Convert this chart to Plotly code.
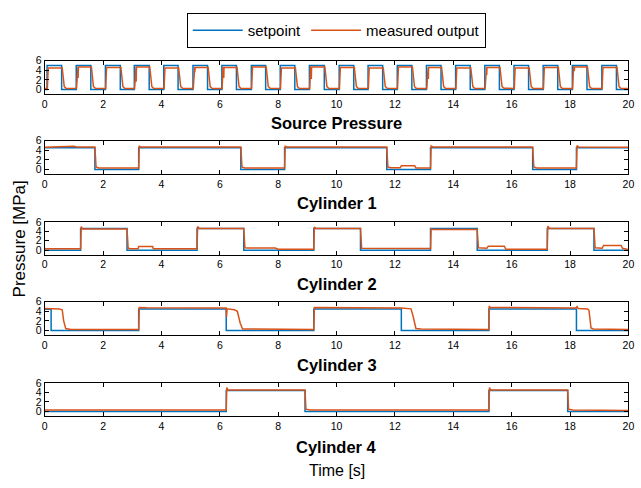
import plotly.graph_objects as go

BLUE = "#0072BD"
ORANGE = "#D95319"

# ---------------- data ----------------
# Source pressure: one pulse per cycle
sp_rise = [0.08, 1.08, 2.08, 3.07, 4.08, 5.08, 6.07, 7.08, 8.07, 9.07,
           10.09, 11.08, 12.08, 13.08, 14.08, 15.08, 16.08, 17.08, 18.08, 19.09]
sp_fall = [0.58, 1.58, 2.59, 3.58, 4.57, 5.58, 6.57, 7.57, 8.57, 9.58,
           10.59, 11.58, 12.58, 13.58, 14.58, 15.58, 16.58, 17.58, 18.58, 19.59]
sp_set_high = 5.0
sp_set_low = 0.0
sp_meas_high = [4.5, 4.7, 4.6, 4.7, 4.5, 4.6, 4.6, 4.7, 4.5, 4.7,
                4.6, 4.5, 4.7, 4.6, 4.5, 4.6, 4.5, 4.6, 4.7, 4.6]
sp_meas_low = [0.2, 0.25, 0.2, 0.2, 0.25, 0.2, 0.2, 0.25, 0.2, 0.2,
               0.2, 0.25, 0.2, 0.2, 0.2, 0.25, 0.2, 0.2, 0.2, 0.2]
sp_dip = [None, 2.4, None, 1.6, None, 3.6, 2.4, None, None, 2.2,
          None, None, None, 2.2, None, 3.0, None, None, 3.8, None]

# Cylinder 1
c1_set_t = [0, 1.72, 3.22, 6.72, 8.22, 11.72, 13.22, 16.72, 18.22, 20]
c1_set_v = [4.55, 0, 4.55, 0, 4.55, 0, 4.55, 0, 4.55, 4.55]
c1_meas_t = [0, 0.6, 0.7, 1.0, 1.1, 1.72, 1.76, 1.85, 3.22, 3.24, 3.3,
             6.72, 6.76, 6.85, 8.22, 8.24, 8.3, 11.72, 11.76, 11.85, 12.18,
             12.22, 12.68, 12.72, 13.22, 13.24, 13.3, 16.72, 16.76, 16.85,
             18.22, 18.24, 18.3, 20]
c1_meas_v = [4.65, 4.7, 4.85, 4.85, 4.7, 4.7, 0.5, 0.3, 0.3, 4.85, 4.7,
             4.7, 0.5, 0.3, 0.3, 4.85, 4.7, 4.7, 0.5, 0.35, 0.35,
             0.75, 0.75, 0.3, 0.3, 4.9, 4.7, 4.7, 0.5, 0.3,
             0.3, 5.0, 4.7, 4.65]

# Cylinder 2
c2_set_t = [0, 1.23, 2.82, 5.22, 6.82, 9.22, 10.82, 13.22, 14.82, 17.22, 18.82, 20]
c2_set_v = [0, 4.6, 0, 4.6, 0, 4.6, 0, 4.6, 0, 4.6, 0, 0]
c2_meas_t = [0, 1.23, 1.25, 1.3, 2.82, 2.86, 2.95, 3.2, 3.22, 3.7, 3.72, 5.22,
             5.24, 5.3, 6.82, 6.86, 6.95, 7.9, 8.0, 9.22, 9.24, 9.3, 10.82,
             10.86, 13.22, 13.24, 13.3, 14.82, 14.86, 15.15, 15.2, 15.75,
             15.8, 17.22, 17.24, 17.3, 18.82, 18.86, 19.1, 19.15, 19.75,
             19.8, 19.95, 20]
c2_meas_v = [0.3, 0.3, 5.0, 4.5, 4.5, 0.4, 0.3, 0.3, 0.75, 0.75, 0.3, 0.3,
             5.0, 4.6, 4.6, 0.5, 0.45, 0.45, 0.2, 0.2, 4.9, 4.6, 4.6,
             0.4, 0.35, 4.5, 4.4, 4.4, 0.5, 0.4, 0.85, 0.85,
             0.2, 0.2, 5.1, 4.6, 4.6, 0.5, 0.4, 1.0, 1.0,
             0.4, 0.2, 0.1]

# Cylinder 3
c3_set_t = [0, 0.22, 3.22, 6.22, 9.22, 12.22, 15.22, 18.22, 20]
c3_set_v = [4.4, 0, 4.5, 0, 4.5, 0, 4.5, 0, 0]
c3_meas_t = [0, 0.5, 0.6, 0.65, 0.72, 0.9, 3.22, 3.24, 3.5, 6.22, 6.23,
             6.25, 6.5, 6.6, 6.7, 6.78, 9.22, 9.24, 12.22, 12.55, 12.62,
             12.72, 12.9, 15.22, 15.23, 15.26, 18.2, 18.24, 18.28, 18.6,
             18.65, 18.72, 18.8, 20]
c3_meas_v = [4.6, 4.5, 4.3, 2.0, 0.4, 0.2, 0.2, 4.8, 4.75, 4.7, 2.8,
             4.5, 4.3, 4.0, 1.5, 0.3, 0.2, 4.8, 4.7, 4.5, 3.0,
             0.4, 0.3, 0.2, 5.1, 4.8, 4.7, 5.0, 4.6, 4.5,
             4.2, 0.5, 0.3, 0.2]

# Cylinder 4
c4_set_t = [0, 6.22, 8.92, 15.22, 17.92, 20]
c4_set_v = [0, 4.4, 0, 4.4, 0, 0]
c4_meas_t = [0, 6.22, 6.24, 6.28, 8.92, 8.95, 9.1, 15.22, 15.24, 15.28,
             17.92, 17.95, 18.1, 20]
c4_meas_v = [0.3, 0.3, 5.0, 4.5, 4.5, 0.5, 0.3, 0.3, 5.0, 4.5,
             4.5, 0.5, 0.3, 0.2]

titles = ["Source Pressure", "Cylinder 1", "Cylinder 2", "Cylinder 3", "Cylinder 4"]
x_ticks = [0, 2, 4, 6, 8, 10, 12, 14, 16, 18, 20]
y_ticks = [0, 2, 4, 6]

# ---------------- build source pressure traces from per-cycle readings ----
sp_set_t, sp_set_v = [0], [sp_set_low]
for r, f in zip(sp_rise, sp_fall):
    sp_set_t += [r, r, f, f]
    sp_set_v += [sp_set_low, sp_set_high, sp_set_high, sp_set_low]
sp_set_t.append(20)
sp_set_v.append(sp_set_low)

sp_meas_t, sp_meas_v = [0], [sp_meas_low[0]]
for r, f, h, lo, d in zip(sp_rise, sp_fall, sp_meas_high, sp_meas_low, sp_dip):
    sp_meas_t += [r + 0.01, r + 0.04]
    sp_meas_v += [lo, h]
    if d is not None:
        sp_meas_t += [r + 0.06, r + 0.065, r + 0.075]
        sp_meas_v += [h, d, h]
    sp_meas_t += [f + 0.02, f + 0.09, f + 0.16]
    sp_meas_v += [h, 0.6, lo]
sp_meas_t.append(20)
sp_meas_v.append(sp_meas_low[-1])

series = [
    (sp_set_t, sp_set_v, "linear", sp_meas_t, sp_meas_v),
    (c1_set_t, c1_set_v, "hv", c1_meas_t, c1_meas_v),
    (c2_set_t, c2_set_v, "hv", c2_meas_t, c2_meas_v),
    (c3_set_t, c3_set_v, "hv", c3_meas_t, c3_meas_v),
    (c4_set_t, c4_set_v, "hv", c4_meas_t, c4_meas_v),
]

# ---------------- layout geometry ----------------
W, H = 641, 488
box_px = [(55.5, 89.5), (136.7, 170.7), (219, 252.5), (300, 334), (382.3, 416.3)]
title_px = [119, 200, 282, 364, 447]
x_left, x_right = 42.3, 634.3

fig = go.Figure()
FONT = "Liberation Sans, Arial, sans-serif"

for i, (st, sv, shape, mt, mv) in enumerate(series):
    ax = "" if i == 0 else str(i + 1)
    fig.add_trace(go.Scatter(x=st, y=sv, mode="lines", line=dict(color=BLUE, width=1.5, shape=shape),
                             name="setpoint", showlegend=(i == 0), xaxis="x" + ax, yaxis="y" + ax))
    fig.add_trace(go.Scatter(x=mt, y=mv, mode="lines", line=dict(color=ORANGE, width=1.5),
                             name="measured output", showlegend=(i == 0), xaxis="x" + ax, yaxis="y" + ax))
    top, bot = box_px[i]
    common = dict(showline=True, linecolor="black", linewidth=1, mirror="ticks",
                  ticks="inside", ticklen=4, tickcolor="black", showgrid=False, zeroline=False,
                  tickfont=dict(size=10.5, color="black", family=FONT))
    fig.layout["xaxis" + ax] = dict(common, domain=[x_left / W, x_right / W], range=[0, 20],
                                    tickvals=x_ticks, anchor="y" + ax)
    fig.layout["yaxis" + ax] = dict(common, domain=[1 - bot / H, 1 - top / H], range=[-1, 6],
                                    tickvals=y_ticks, anchor="x" + ax)
    fig.add_annotation(text="<b>" + titles[i] + "</b>", x=(x_left + x_right) / 2 / W, y=1 - title_px[i] / H,
                       xref="paper", yref="paper", showarrow=False, xanchor="center", yanchor="middle",
                       font=dict(size=16.5, color="black", family=FONT))

fig.add_annotation(text="Pressure [MPa]", x=17 / W, y=1 - 236 / H, xref="paper", yref="paper",
                   showarrow=False, textangle=-90, xanchor="center", yanchor="middle",
                   font=dict(size=17, color="black", family=FONT))
fig.add_annotation(text="Time [s]", x=(x_left + x_right) / 2 / W, y=1 - 471 / H, xref="paper", yref="paper",
                   showarrow=False, xanchor="center", yanchor="middle",
                   font=dict(size=16, color="black", family=FONT))

fig.update_layout(
    width=W, height=H, margin=dict(l=0, r=0, t=0, b=0),
    paper_bgcolor="white", plot_bgcolor="white",
    font=dict(family=FONT, color="black"),
    legend=dict(orientation="h", x=338 / W, y=1 - 7 / H, xanchor="center", yanchor="top",
                bordercolor="black", borderwidth=1, bgcolor="white", itemwidth=50,
                font=dict(size=15, color="black", family=FONT)),
)

fig.write_html("out.html")
